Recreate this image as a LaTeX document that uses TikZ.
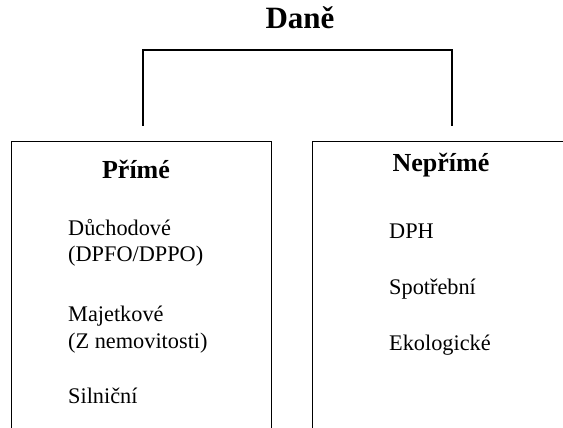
\documentclass[tikz,border=0pt]{standalone}
\usepackage{fontspec}
\setmainfont{Liberation Serif}
\usetikzlibrary{positioning}

\begin{document}
\begin{tikzpicture}[x=1pt, y=1pt,
  every node/.style={font=\fontsize{22.3}{26}\selectfont, inner sep=0pt},
  group/.style={draw, line width=1.3pt, minimum height=330pt, anchor=north west},
  head/.style={font=\fontsize{26}{30}\selectfont\bfseries, text height=0.66em, text depth=0pt},
  item/.style={anchor=west, text height=0.66em, text depth=0pt},
  link/.style={line width=1.3pt}]
\useasboundingbox (0,0) rectangle (563,-428);
\clip (0,0) rectangle (563,-428);
% top heading
\node[head, font=\fontsize{31}{34}\selectfont\bfseries] (dane) at (300,-25) {Daně};
% two groups
\node[group, minimum width=260pt] (prime) at (11,-141) {};
\node[group, minimum width=270pt] (neprime) at (312,-141) {};
\node[head] (primeh) at (136,-175) {Přímé};
\node[head] (neprimeh) at (441,-168) {Nepřímé};
% items of the left group
\node[item] (duch) at (68,-232) {Důchodové};
\node[item] (dpfo) at (68,-258) {(DPFO/DPPO)};
\node[item] (majet) at (68,-318) {Majetkové};
\node[item] (nemov) at (68,-345) {(Z nemovitosti)};
\node[item] (siln) at (68,-400) {Silniční};
% items of the right group
\node[item] (dph) at (389,-235) {DPH};
\node[item] (spotr) at (389,-291) {Spotřební};
\node[item] (ekol) at (389,-347) {Ekologické};
% bracket
\coordinate (lleg) at (143,-126);
\coordinate (rleg) at (452,-126);
\coordinate (top) at (300,-50);
\draw[link] (lleg) -- (lleg |- top) -- (rleg |- top) -- (rleg);
\end{tikzpicture}
\end{document}
